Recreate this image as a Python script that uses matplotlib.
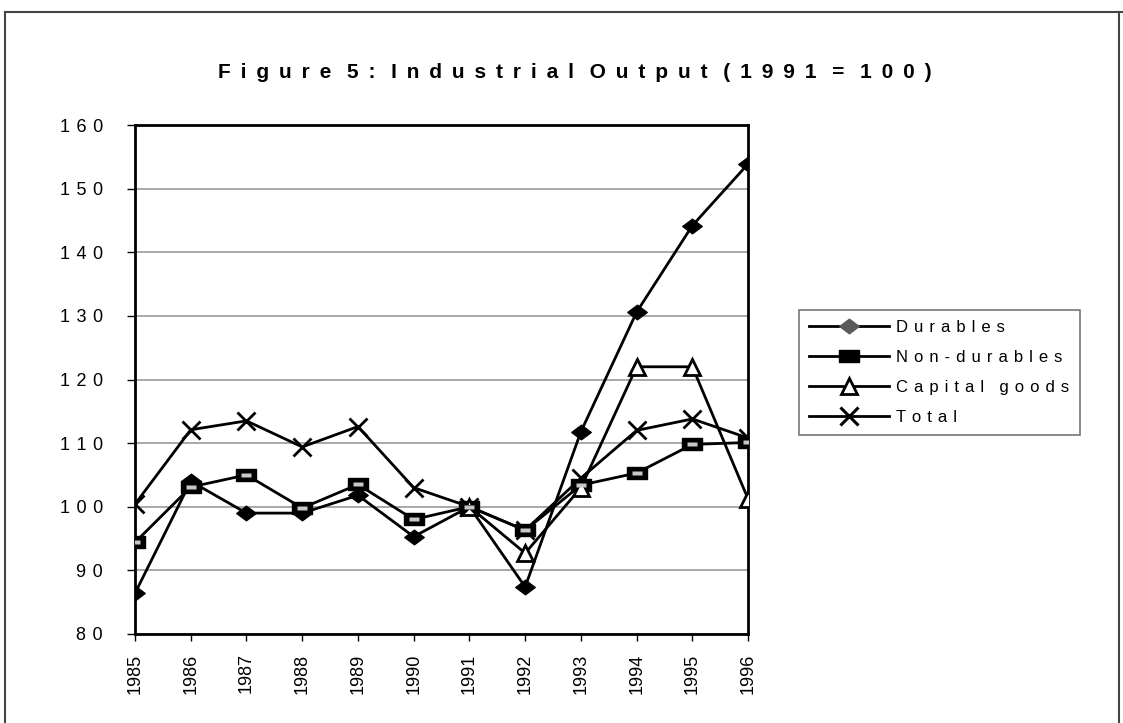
import numpy as np
import matplotlib
matplotlib.use("Agg")
import matplotlib.pyplot as plt
from matplotlib.path import Path
from matplotlib.lines import Line2D

years = [1985, 1986, 1987, 1988, 1989, 1990, 1991, 1992, 1993, 1994, 1995, 1996]
durables = [86.4, 104.0, 99.0, 99.0, 101.8, 95.3, 100.0, 87.4, 111.8, 130.6, 144.2, 153.9]
non_durables = [94.4, 103.1, 105.0, 99.8, 103.5, 98.0, 100.0, 96.3, 103.4, 105.3, 109.8, 110.1]
capital_goods = [np.nan, np.nan, np.nan, np.nan, np.nan, np.nan, 100.0, 92.7, 103.0, 122.0, 122.0, 101.2]
total = [100.4, 112.1, 113.5, 109.4, 112.6, 103.0, 100.0, 96.3, 104.5, 112.0, 113.8, 110.8]
series_names = ["Durables", "Non-durables", "Capital goods", "Total"]
title = "Figure 5: Industrial Output (1991 = 100)"
yticks = [80, 90, 100, 110, 120, 130, 140, 150, 160]

plt.rcParams['font.family'] = ['Liberation Sans', 'DejaVu Sans']


def spaced(s, sep=" \u2009", wordgap=" "):
    out = []
    for i, c in enumerate(s):
        if c == " ":
            out.append(wordgap)
        else:
            out.append(c)
            if i < len(s) - 1:
                out.append(sep)
    return "".join(out)


fig = plt.figure(figsize=(11.23, 7.23), dpi=100)
ax = fig.add_axes([0.1202, 0.1231, 0.5460, 0.7040])

x = np.arange(len(years))
lw = 2.0

diamond = Path([(-1, 0), (0, 0.75), (1, 0), (0, -0.75), (-1, 0)],
               [Path.MOVETO, Path.LINETO, Path.LINETO, Path.LINETO, Path.CLOSEPOLY])
rect = Path([(-1, -0.62), (1, -0.62), (1, 0.62), (-1, 0.62), (-1, -0.62)],
            [Path.MOVETO, Path.LINETO, Path.LINETO, Path.LINETO, Path.CLOSEPOLY])
inner = Path([(-1, -0.45), (1, -0.45), (1, 0.45), (-1, 0.45), (-1, -0.45)],
             [Path.MOVETO, Path.LINETO, Path.LINETO, Path.LINETO, Path.CLOSEPOLY])

ax.plot(x, durables, color='black', lw=lw, marker=diamond, ms=14, mfc='black', mec='black', zorder=4)
ax.plot(x, non_durables, color='black', lw=lw, marker=rect, ms=14, mfc='black', mec='black', zorder=4)
ax.plot(x, non_durables, color='none', lw=0, marker=inner, ms=7, mfc='#c8c8c8', mec='none', zorder=4.5)
ax.plot(x, capital_goods, color='black', lw=lw, marker='^', ms=12, mfc='white', mec='black', mew=2, zorder=4)
ax.plot(x, total, color='black', lw=lw, marker='x', ms=13, mec='black', mew=2, zorder=4)

ax.set_xlim(0, len(years) - 1)
ax.set_ylim(80, 160)
ax.set_yticks(yticks)
ax.set_yticklabels([spaced(str(v), " \u200a") for v in yticks], fontsize=13)
ax.set_xticks(x)
ax.set_xticklabels([str(y) for y in years], rotation=90, fontsize=13)
ax.tick_params(axis='y', direction='out', length=6, width=1, pad=17)
ax.tick_params(axis='x', direction='out', length=5, width=1, pad=9)

ax.yaxis.grid(True, color='#9a9a9a', lw=1.2)
ax.set_axisbelow(True)
for s in ax.spines.values():
    s.set_linewidth(2)
    s.set_color('black')

fig.text(575 / 1123, 1 - 73 / 723, spaced(title), ha='center', va='center', fontsize=15, fontweight='bold')

handles = [
    Line2D([], [], color='black', lw=lw, marker=diamond, ms=14, mfc='#5a5a5a', mec='#5a5a5a'),
    Line2D([], [], color='black', lw=lw, marker=rect, ms=14, mfc='black', mec='black'),
    Line2D([], [], color='black', lw=lw, marker='^', ms=11, mfc='white', mec='black', mew=2),
    Line2D([], [], color='black', lw=lw, marker='x', ms=13, mec='black', mew=2.2),
]
leg = fig.legend(handles, [spaced(n, " \u200a", "  ") for n in series_names], loc='upper left',
                 bbox_to_anchor=(799 / 1123, 1 - 310 / 723), fontsize=12,
                 frameon=True, fancybox=False, handlelength=4.8, handletextpad=0.45,
                 labelspacing=0.9, borderpad=0.6, borderaxespad=0)
leg.get_frame().set_edgecolor('#555555')
leg.get_frame().set_linewidth(1.2)

# outer frame
fig.add_artist(Line2D([5 / 1123, 5 / 1123], [0, 1 - 12 / 723], transform=fig.transFigure, color='#444444', lw=1.5))
fig.add_artist(Line2D([5 / 1123, 1], [1 - 12 / 723, 1 - 12 / 723], transform=fig.transFigure, color='#444444', lw=1.5))
fig.add_artist(Line2D([1119 / 1123, 1119 / 1123], [0, 1 - 12 / 723], transform=fig.transFigure, color='#444444', lw=1.5))

fig.savefig('out.png', dpi=100)
